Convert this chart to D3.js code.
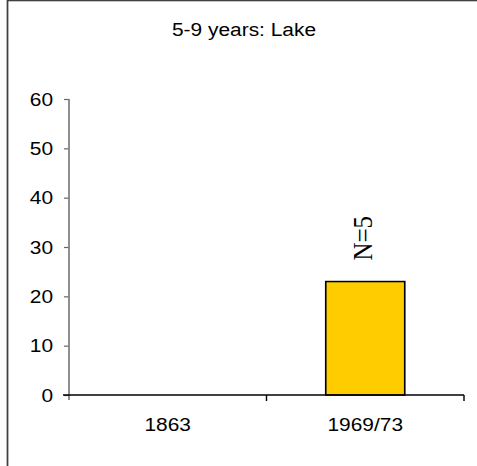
<!DOCTYPE html>
<html>
<head>
<meta charset="utf-8">
<script src="https://cdn.jsdelivr.net/npm/d3@7"></script>
<style>
  html, body { margin: 0; padding: 0; background: #fff; }
  svg { display: block; }
</style>
</head>
<body>
<svg id="chart" width="477" height="466"></svg>
<script>
// Chart data
const title = "5-9 years: Lake";
const categories = ["1863", "1969/73"];
const values = [null, 23];
const sampleLabels = [null, "N=5"];
const yTicks = [0, 10, 20, 30, 40, 50, 60];

// Drawing is done in a slightly narrower user space and stretched to the
// full width, giving the wide lettering of the original export.
const W = 477, H = 466, SX = 1.1;
const svg = d3.select("#chart")
  .attr("viewBox", `0 0 ${W / SX} ${H}`)
  .attr("preserveAspectRatio", "none");
const px = v => v / SX;   // horizontal pixel -> user units
const FONT = "'Liberation Sans', Arial, sans-serif";
const FS = 19;

const plot = { left: 69, right: 464, top: 99, bottom: 395 };

// Outer frame
svg.append("rect")
  .attr("x", px(7.5)).attr("y", 0.5)
  .attr("width", px(W + 20)).attr("height", H + 20)
  .attr("fill", "#fff")
  .attr("stroke", "#404040")
  .attr("stroke-width", 1.6);

// Title
svg.append("text")
  .attr("x", px(244)).attr("y", 36)
  .attr("text-anchor", "middle")
  .attr("font-family", FONT)
  .attr("font-size", FS)
  .attr("fill", "#000")
  .text(title);

const y = d3.scaleLinear().domain([0, 60]).range([plot.bottom, plot.top]);
const x = d3.scaleBand()
  .domain(categories)
  .range([px(plot.left), px(plot.right)])
  .paddingInner(0.6)
  .paddingOuter(0.3);

// Y axis (grey)
const yAxis = svg.append("g")
  .attr("transform", `translate(${px(plot.left)},0)`)
  .call(d3.axisLeft(y).tickValues(yTicks).tickSize(px(5)).tickPadding(px(11)));
yAxis.select(".domain").remove();
yAxis.selectAll(".tick line").attr("stroke", "#666").attr("stroke-width", 1.2);
yAxis.selectAll(".tick text")
  .attr("font-family", FONT)
  .attr("font-size", FS)
  .attr("fill", "#000");
svg.append("line")
  .attr("x1", px(plot.left)).attr("x2", px(plot.left))
  .attr("y1", plot.top).attr("y2", plot.bottom + 5)
  .attr("stroke", "#808080").attr("stroke-width", 1.6);

// Bars
svg.append("g").selectAll("rect")
  .data(categories.map((c, i) => ({ c, v: values[i] })).filter(d => d.v != null))
  .join("rect")
  .attr("x", d => x(d.c))
  .attr("y", d => y(d.v))
  .attr("width", x.bandwidth())
  .attr("height", d => y(0) - y(d.v))
  .attr("fill", "#FFCC00")
  .attr("stroke", "#000")
  .attr("stroke-width", 1.5);

// X axis: baseline, category boundary ticks, labels
const step = x.step();
const x0 = px(plot.left);
svg.append("line")
  .attr("x1", px(plot.left - 6)).attr("x2", px(plot.right))
  .attr("y1", plot.bottom).attr("y2", plot.bottom)
  .attr("stroke", "#000").attr("stroke-width", 1.3);
svg.append("g").selectAll("line")
  .data(d3.range(categories.length + 1).slice(1))
  .join("line")
  .attr("x1", i => x0 + i * step).attr("x2", i => x0 + i * step)
  .attr("y1", plot.bottom).attr("y2", plot.bottom + 6)
  .attr("stroke", "#000").attr("stroke-width", 1.3);
svg.append("g").selectAll("text")
  .data(categories)
  .join("text")
  .attr("x", d => x(d) + x.bandwidth() / 2)
  .attr("y", 431)
  .attr("text-anchor", "middle")
  .attr("font-family", FONT)
  .attr("font-size", FS)
  .attr("fill", "#000")
  .text(d => d);

// Sample size labels above bars, rotated
svg.append("g").selectAll("text")
  .data(categories.map((c, i) => ({ c, v: values[i], t: sampleLabels[i] })).filter(d => d.v != null && d.t))
  .join("text")
  .attr("transform", d => `translate(${x(d.c) + x.bandwidth() / 2},${y(d.v) - 21}) rotate(-90)`)
  .attr("dy", "0.26em")
  .attr("text-anchor", "start")
  .attr("font-family", "'Liberation Serif', 'Times New Roman', serif")
  .attr("font-size", 25)
  .attr("fill", "#000")
  .text(d => d.t);
</script>
</body>
</html>
